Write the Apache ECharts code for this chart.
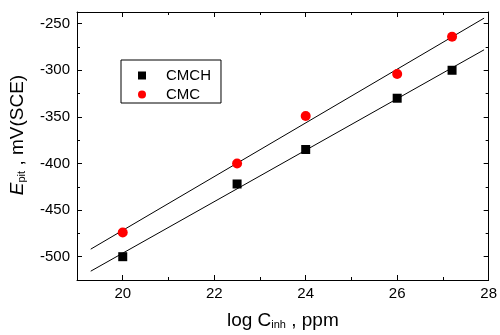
<!DOCTYPE html>
<html><head><meta charset="utf-8">
<script src="https://cdn.jsdelivr.net/npm/echarts@6/dist/echarts.min.js"></script>
<style>html,body{margin:0;padding:0;background:#fff}#c{width:500px;height:335px}</style>
</head><body><div id="c"></div>
<script>
const logC = [20, 22.5, 24, 26, 27.2];
const cmch = [-500, -422, -385, -330, -300];
const cmc = [-474, -400, -349, -304, -264];
const fitRange = [19.3, 27.9];
const xMajorTicks = [20, 22, 24, 26, 28];
const xMinorTicks = [19, 21, 23, 25, 27];
const yMajorTicks = [-500, -450, -400, -350, -300, -250];
const yMinorTicks = [-525, -475, -425, -375, -325, -275];
const xRange = [19, 28];
const yRange = [-525, -237.5];

function fitLine(xs, ys) {
  const n = xs.length;
  const mx = xs.reduce((a, b) => a + b, 0) / n;
  const my = ys.reduce((a, b) => a + b, 0) / n;
  let sxy = 0, sxx = 0;
  for (let i = 0; i < n; i++) { sxy += (xs[i] - mx) * (ys[i] - my); sxx += (xs[i] - mx) ** 2; }
  const b = sxy / sxx, a = my - b * mx;
  return fitRange.map(x => [x, a + b * x]);
}

const FONT = 'Liberation Sans, Arial, sans-serif';
const lineStyle = { color: '#000', width: 1 };

function xAxisDef(pos, major, showLabel, showLine) {
  return {
    type: 'value', position: pos, min: xRange[0], max: xRange[1], offset: 0,
    splitLine: { show: false },
    axisLine: { show: showLine, onZero: false, lineStyle },
    axisTick: { show: true, inside: true, length: major ? 5 : 3, lineStyle,
                customValues: major ? xMajorTicks : xMinorTicks },
    axisLabel: { show: showLabel, customValues: xMajorTicks, color: '#000',
                 fontFamily: FONT, fontSize: 15, margin: 6 }
  };
}
function yAxisDef(pos, major, showLabel, showLine) {
  return {
    type: 'value', position: pos, min: yRange[0], max: yRange[1], offset: 0,
    splitLine: { show: false },
    axisLine: { show: showLine, onZero: false, lineStyle },
    axisTick: { show: true, inside: true, length: major ? 5 : 3, lineStyle,
                customValues: major ? yMajorTicks : yMinorTicks },
    axisLabel: { show: showLabel, customValues: yMajorTicks, color: '#000',
                 fontFamily: FONT, fontSize: 15, margin: 7 }
  };
}

const subStyle = { fontFamily: FONT, fontSize: 11, color: '#000', verticalAlign: 'bottom', lineHeight: 6 };

const xMain = xAxisDef('bottom', true, true, true);
xMain.name = 'log C{sub|inh} , ppm';
xMain.nameLocation = 'middle';
xMain.nameGap = 31;
xMain.nameTextStyle = { color: '#000', fontFamily: FONT, fontSize: 19, rich: { sub: subStyle } };

const yMain = yAxisDef('left', true, true, true);
yMain.name = '{i|E}{sub|pit} , mV(SCE)';
yMain.nameLocation = 'middle';
yMain.nameRotate = 90;
yMain.nameGap = 50;
yMain.nameTextStyle = { color: '#000', fontFamily: FONT, fontSize: 19, padding: [0, 0, 0, 22],
  rich: { i: { fontFamily: FONT, fontSize: 19, fontStyle: 'italic', color: '#000' }, sub: subStyle } };

const option = {
  animation: false,
  backgroundColor: '#fff',
  grid: { left: 77, right: 9, top: 12, bottom: 52, containLabel: false },
  legend: {
    data: ['CMCH', 'CMC'], orient: 'vertical', left: 121, top: 60,
    borderColor: '#000', borderWidth: 1, borderRadius: 0,
    padding: [8, 10, 1, 17], itemGap: 4, itemWidth: 8, itemHeight: 8,
    textStyle: { color: '#000', fontFamily: FONT, fontSize: 15, padding: [0, 0, 0, 15] }
  },
  xAxis: [xMain, xAxisDef('bottom', false, false, false),
          xAxisDef('top', true, false, true), xAxisDef('top', false, false, false)],
  yAxis: [yMain, yAxisDef('left', false, false, false),
          yAxisDef('right', true, false, true), yAxisDef('right', false, false, false)],
  series: [
    { name: 'CMCH fit', type: 'line', data: fitLine(logC, cmch), showSymbol: false,
      lineStyle: { color: '#000', width: 1 }, silent: true, z: 1 },
    { name: 'CMC fit', type: 'line', data: fitLine(logC, cmc), showSymbol: false,
      lineStyle: { color: '#000', width: 1 }, silent: true, z: 1 },
    { name: 'CMCH', type: 'scatter', symbol: 'rect', symbolSize: 9,
      itemStyle: { color: '#000', opacity: 1 }, data: logC.map((x, i) => [x, cmch[i]]), z: 3 },
    { name: 'CMC', type: 'scatter', symbol: 'circle', symbolSize: 10,
      itemStyle: { color: '#ff0000', opacity: 1 }, data: logC.map((x, i) => [x, cmc[i]]), z: 3 }
  ]
};
const chart = echarts.init(document.getElementById('c'), null, { renderer: 'canvas' });
chart.setOption(option);
</script></body></html>
